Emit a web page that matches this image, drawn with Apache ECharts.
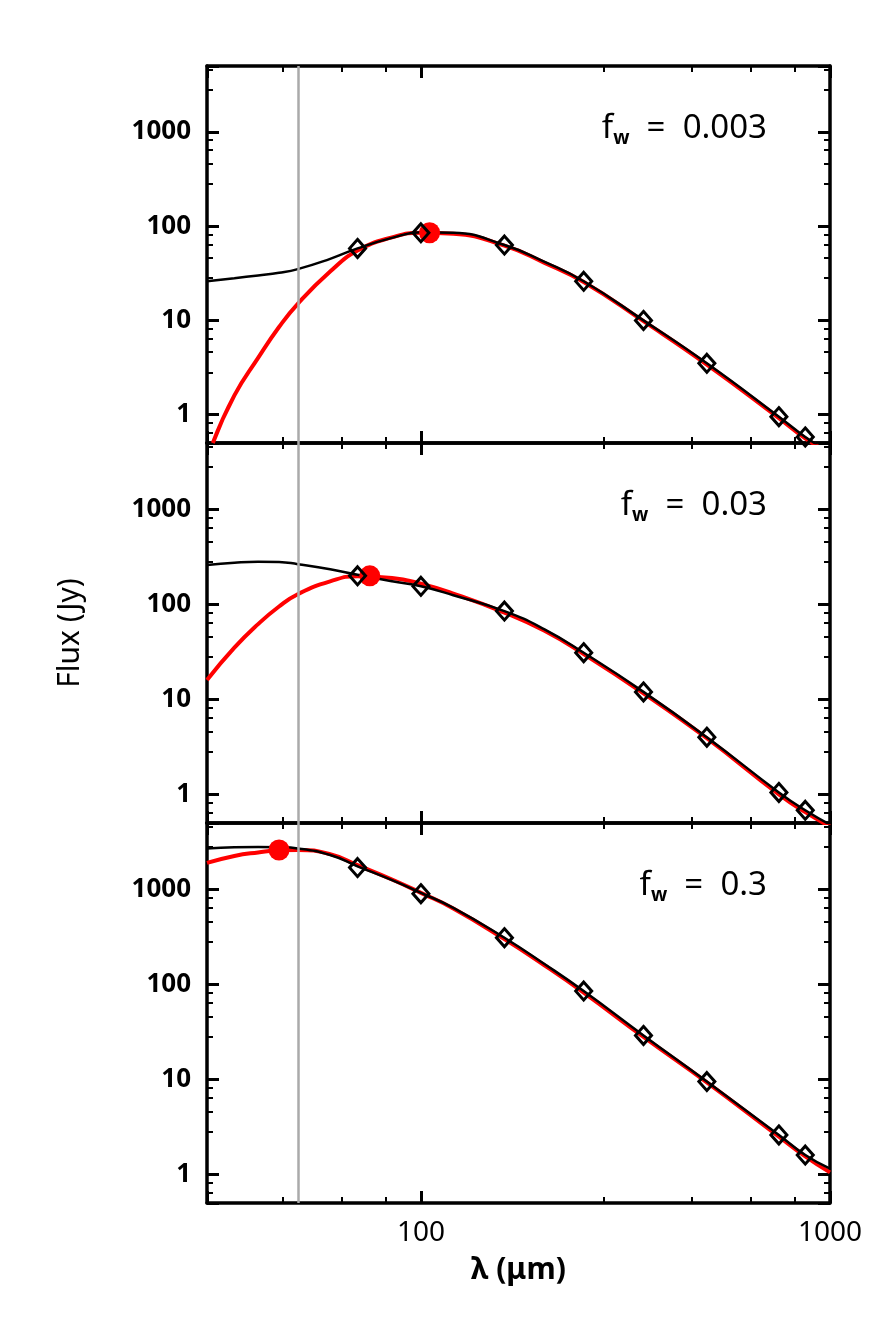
<!DOCTYPE html>
<html><head><meta charset="utf-8">
<script src="https://cdn.jsdelivr.net/npm/echarts@6/dist/echarts.min.js"></script>
<style>html,body{margin:0;background:#fff}#c{width:891px;height:1337px}</style>
</head><body><div id="c"></div>
<script>
// wavelength grid for the model curves (micron)
const lam = [30,35,40,45,50,60,70,85,100,120,160,200,250,350,500,750,870,1000]
const lamRed1 = [31,35,40,45,50,60,70,85,100,120,160,200,250,350,500,750,870,1000]

const black1 = [26,28,30,32,35,45,58,75,86,85,63,42,26,10,3.5,0.95,0.58,0.4]
const red1   = [0.5,1.6,4,8.5,15,33,55,76,85,83,62,41,25.5,9.8,3.4,0.92,0.56,0.39]
const black2 = [260,275,282,280,265,235,205,175,155,125,85,55,31,12,4,1.05,0.68,0.48]
const red2   = [16,35,62,95,128,175,198,190,165,130,82,53,30,11.6,3.9,1.0,0.65,0.46]
const black3 = [2700,2780,2800,2780,2700,2300,1750,1250,920,640,310,165,85,29,9.5,2.6,1.6,1.15]
const red3   = [1900,2250,2450,2580,2600,2350,1800,1270,920,630,300,160,82,28,9.3,2.5,1.55,1.05]

// photometry
const obsLam = [70,100,160,250,350,500,750,870]
const obs1 = [58,85,63,26,10,3.5,0.95,0.58]
const obs2 = [200,155,85,31,12,4,1.05,0.68]
const obs3 = [1700,900,310,85,29,9.5,2.6,1.6]

// peak markers
const peaks = [[105,85],[75,200],[45,2600]]
const labels = ['0.003','0.03','0.3']
const yTickLabels = ['1','10','100','1000']
const xTickLabels = ['100','1000']

const chart = echarts.init(document.getElementById('c'))
const tops = [66,443,823], heights = [377,380,380]
const font = 'Noto Sans'
const grids = [], xAxes = [], yAxes = [], series = [], graphics = []
const blacks = [black1,black2,black3], reds = [red1,red2,red3], obs = [obs1,obs2,obs3]
const redLams = [lamRed1, lam, lam]
const pair = (xs, ys) => xs.map((x,i)=>[x,ys[i]])
const fmt = list => v => list.includes(String(Math.round(v))) ? String(Math.round(v)) : ''

for (let p = 0; p < 3; p++) {
  grids.push({left:207, width:623, top:tops[p], height:heights[p]})
  const axLine = {show:true, lineStyle:{color:'#000', width:3.5}}
  const tick = {show:true, inside:true, length:12, lineStyle:{color:'#000', width:3}}
  const minor = {show:true, splitNumber:5, length:6, lineStyle:{color:'#000', width:2}}
  ;['bottom','top'].forEach(pos => xAxes.push({
    type:'log', gridIndex:p, min:30, max:1000, position:pos, splitNumber:2,
    axisLine:axLine, axisTick:tick, minorTick:minor, splitLine:{show:false},
    axisLabel:{show:(pos=='bottom' && p==2), color:'#000', fontSize:28, fontFamily:font, margin:16,
      showMinLabel:false, formatter:fmt(xTickLabels)},
    name:(pos=='bottom' && p==2) ? 'λ (μm)' : '', nameLocation:'middle', nameGap:52,
    nameTextStyle:{color:'#000', fontSize:30, fontFamily:font, fontWeight:'bold'}
  }))
  ;['left','right'].forEach(pos => yAxes.push({
    type:'log', gridIndex:p, min:0.5, max:5000, position:pos, splitNumber:4,
    axisLine:axLine, axisTick:tick, minorTick:minor, splitLine:{show:false},
    axisLabel:{show:pos=='left', color:'#000', fontSize:26, fontFamily:font, fontWeight:'bold', margin:16,
      showMinLabel:false, showMaxLabel:false, formatter:fmt(yTickLabels)},
    name:(pos=='left' && p==1) ? 'Flux (Jy)' : '', nameLocation:'middle', nameGap:122,
    nameTextStyle:{color:'#000', fontSize:30, fontFamily:font}
  }))
  const xi = p*2, yi = p*2
  series.push({type:'line', xAxisIndex:xi, yAxisIndex:yi, data:pair(redLams[p], reds[p]), smooth:true,
    showSymbol:false, clip:true, lineStyle:{color:'#ff0000', width:4}, z:2,
    markLine:{silent:true, symbol:'none', label:{show:false}, lineStyle:{color:'#aaa', width:2.5, type:'solid'},
      data:[{xAxis:50}]}})
  series.push({type:'line', xAxisIndex:xi, yAxisIndex:yi, data:pair(lam, blacks[p]), smooth:true,
    showSymbol:false, clip:true, lineStyle:{color:'#000', width:2.5}, z:3})
  series.push({type:'scatter', xAxisIndex:xi, yAxisIndex:yi, data:[peaks[p]], symbol:'circle', symbolSize:21,
    itemStyle:{color:'#ff0000', opacity:1}, z:4})
  series.push({type:'scatter', xAxisIndex:xi, yAxisIndex:yi, data:pair(obsLam, obs[p]), symbol:'diamond', symbolSize:[16,18],
    itemStyle:{color:'rgba(255,255,255,0)', borderColor:'#000', borderWidth:3, opacity:1}, z:5})
  graphics.push({type:'text', right:124, top:tops[p]+46, style:{
    text:'{f|f}{w|w}{f|  =  ' + labels[p] + '}',
    rich:{f:{fontSize:33, fontFamily:font, fill:'#000'}, w:{fontSize:19, fontFamily:font, fontWeight:'bold', fill:'#000', padding:[20,0,0,0]}}
  }})
}

chart.setOption({
  animation:false, grid:grids, xAxis:xAxes, yAxis:yAxes, series:series, graphic:graphics
})
</script></body></html>
